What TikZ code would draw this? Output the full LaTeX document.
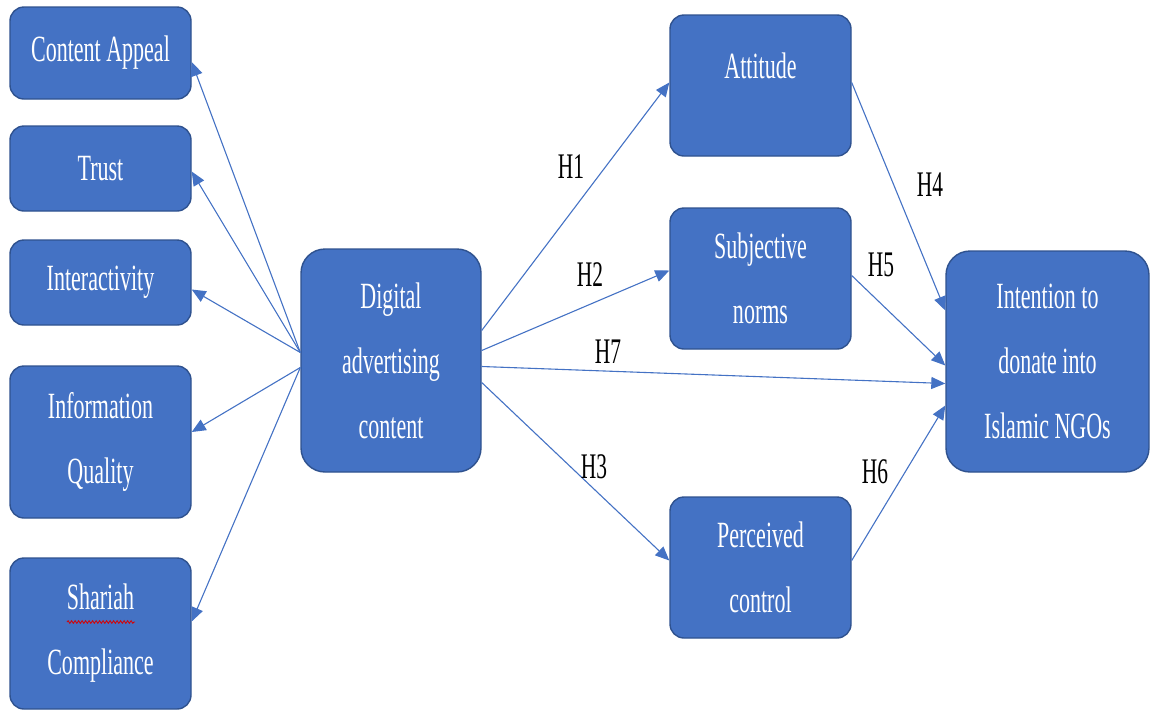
\documentclass[tikz,border=0pt]{standalone}
\usepackage{fontspec}
\setmainfont[FakeStretch=0.595]{Liberation Serif}
\usetikzlibrary{arrows.meta,calc,decorations.pathmorphing}
\definecolor{boxfill}{HTML}{4472C4}
\definecolor{boxline}{HTML}{2F528F}
\definecolor{linkcol}{HTML}{4472C4}
\begin{document}
\begin{tikzpicture}[x=1pt,y=-1pt,
  box/.style={draw=boxline,line width=1.4pt,fill=boxfill,rounded corners=14pt,
    text=white,align=center,inner sep=0pt,
    font=\fontsize{37}{65}\selectfont},
  bigbox/.style={box,rounded corners=24pt},
  link/.style={draw=linkcol,line width=1.1pt,
    -{Triangle[length=14pt,width=12pt]}},
  hyp/.style={font=\fontsize{36}{40}\selectfont,inner sep=0pt}]
\useasboundingbox (0,0) rectangle (1150,710);

% antecedent constructs
\node[box,minimum width=181pt,minimum height=92pt]  (ca)  at (100.5,53)    {Content Appeal};
\node[box,minimum width=181pt,minimum height=85pt]  (tr)  at (100.5,168.5) {Trust};
\node[box,minimum width=181pt,minimum height=85pt]  (ia)  at (100.5,282.5) {Interactivity};
\node[box,minimum width=181pt,minimum height=152pt] (iq)  at (100.5,442)   {Information\\Quality};
\node[box,minimum width=181pt,minimum height=151pt] (sc)  at (100.5,633.5) {Shariah\\Compliance};

% central construct
\node[bigbox,minimum width=180pt,minimum height=223pt] (dig) at (391,360.5) {Digital\\advertising\\content};

% mediators
\node[box,minimum width=181pt,minimum height=141pt] (att) at (760.5,85.5)
  {\raisebox{20pt}[\height][\depth]{Attitude}};
\node[box,minimum width=181pt,minimum height=141pt] (sn)  at (760.5,278.5) {Subjective\\norms};
\node[box,minimum width=181pt,minimum height=141pt] (pc)  at (760.5,567.5) {Perceived\\control};

% outcome
\node[bigbox,minimum width=203pt,minimum height=221pt] (int) at (1047.5,361.5) {Intention to\\donate into\\Islamic NGOs};

% spell-check underline
\draw[red!85!black,line width=0.8pt,decorate,decoration={snake,segment length=3.5pt,amplitude=1.3pt}]
  (67,622) -- (135,622);

% links to antecedents
\draw[link] ($(dig.west)+(0,-8)$) -- ($(ca.east)+(0,9)$);
\draw[link] ($(dig.west)+(0,-8)$) -- ($(tr.east)+(0,3)$);
\draw[link] ($(dig.west)+(0,-8)$) -- ($(ia.east)+(0,7)$);
\draw[link] ($(dig.west)+(0,7)$)  -- ($(iq.east)+(0,-10)$);
\draw[link] ($(dig.west)+(0,7)$)  -- ($(sc.east)+(0,-12)$);

% hypothesised paths
\draw[link] ($(dig.east)+(0,-30)$) -- ($(att.west)+(0,-3)$);
\draw[link] ($(dig.east)+(0,-10)$) -- ($(sn.west)+(0,-8)$);
\draw[link] ($(dig.east)+(0,6)$)   -- ($(int.west)+(0,22)$);
\draw[link] ($(dig.east)+(0,22)$)  -- ($(pc.west)+(0,-7)$);
\draw[link] ($(att.east)+(0,-3)$)  -- ($(int.west)+(0,-51)$);
\draw[link] ($(sn.east)+(0,-3)$)   -- ($(int.west)+(0,4)$);
\draw[link] ($(pc.east)+(0,-7)$)   -- ($(int.west)+(0,44)$);

% path labels
\node[hyp] (h1) at (571,167) {H1};
\node[hyp] (h2) at (590,275) {H2};
\node[hyp] (h7) at (608,352) {H7};
\node[hyp] (h3) at (594,467) {H3};
\node[hyp] (h4) at (930,185) {H4};
\node[hyp] (h5) at (881,265) {H5};
\node[hyp] (h6) at (875,472) {H6};
\end{tikzpicture}
\end{document}
